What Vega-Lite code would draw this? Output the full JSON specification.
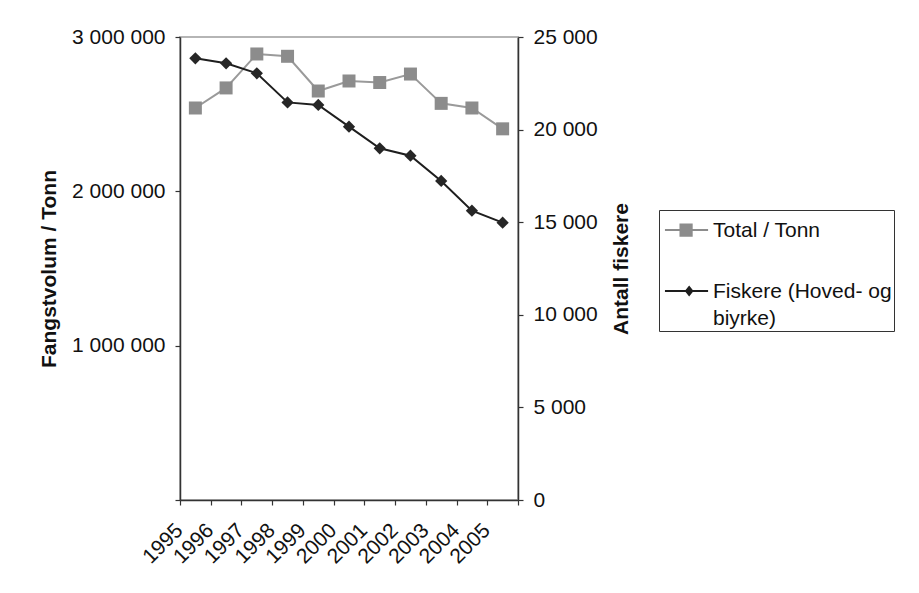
{
  "$schema": "https://vega.github.io/schema/vega-lite/v6.json",
  "width": 338,
  "height": 463,
  "autosize": {"type": "none"},
  "padding": {"left": 180, "top": 37, "right": 401, "bottom": 93},
  "background": "white",
  "config": {
    "font": "Liberation Sans",
    "view": {"stroke": "#b5b5b5", "strokeWidth": 2},
    "axis": {"labelFont": "Liberation Sans", "titleFont": "Liberation Sans", "labelFontSize": 21, "titleFontSize": 21, "labelColor": "#111", "titleColor": "#111", "domainColor": "#333", "tickColor": "#333", "domainWidth": 1.5, "tickWidth": 1.2, "grid": false},
    "legend": {"labelFont": "Liberation Sans", "labelFontSize": 21, "labelColor": "#111", "labelLimit": 0, "strokeColor": "#333", "padding": 2, "rowPadding": 32, "labelOffset": 8, "symbolSize": 1936, "symbolOpacity": 1, "symbolStrokeWidth": 0, "labelBaseline": "top"}
  },
  "data": {"values": [
    {"year": "1995", "series": "Total / Tonn", "value": 2540000},
    {"year": "1996", "series": "Total / Tonn", "value": 2670000},
    {"year": "1997", "series": "Total / Tonn", "value": 2890000},
    {"year": "1998", "series": "Total / Tonn", "value": 2875000},
    {"year": "1999", "series": "Total / Tonn", "value": 2650000},
    {"year": "2000", "series": "Total / Tonn", "value": 2715000},
    {"year": "2001", "series": "Total / Tonn", "value": 2705000},
    {"year": "2002", "series": "Total / Tonn", "value": 2760000},
    {"year": "2003", "series": "Total / Tonn", "value": 2570000},
    {"year": "2004", "series": "Total / Tonn", "value": 2540000},
    {"year": "2005", "series": "Total / Tonn", "value": 2405000},
    {"year": "1995", "series": "Fiskere (Hoved- og biyrke)", "value": 23850},
    {"year": "1996", "series": "Fiskere (Hoved- og biyrke)", "value": 23580},
    {"year": "1997", "series": "Fiskere (Hoved- og biyrke)", "value": 23040},
    {"year": "1998", "series": "Fiskere (Hoved- og biyrke)", "value": 21470},
    {"year": "1999", "series": "Fiskere (Hoved- og biyrke)", "value": 21330},
    {"year": "2000", "series": "Fiskere (Hoved- og biyrke)", "value": 20160},
    {"year": "2001", "series": "Fiskere (Hoved- og biyrke)", "value": 18990},
    {"year": "2002", "series": "Fiskere (Hoved- og biyrke)", "value": 18590},
    {"year": "2003", "series": "Fiskere (Hoved- og biyrke)", "value": 17225},
    {"year": "2004", "series": "Fiskere (Hoved- og biyrke)", "value": 15620},
    {"year": "2005", "series": "Fiskere (Hoved- og biyrke)", "value": 14975}
  ]},
  "encoding": {
    "x": {
      "field": "year", "type": "ordinal",
      "scale": {"type": "band", "paddingInner": 0, "paddingOuter": 0},
      "axis": {"title": null, "tickBand": "extent", "labelAngle": -45, "labelAlign": "right", "labelBaseline": "middle", "labelOffset": -16, "labelPadding": 22, "tickSize": 5}
    }
  },
  "layer": [
    {
      "encoding": {
        "y": {
          "field": "value", "type": "quantitative",
          "scale": {"domain": [0, 3000000], "nice": false, "zero": true},
          "axis": {"orient": "left", "values": [0, 1000000, 2000000, 3000000], "labelExpr": "datum.value == 0 ? '' : replace(format(datum.value, ','), regexp(',', 'g'), ' ')", "title": "Fangstvolum / Tonn", "titleFontWeight": "bold", "tickSize": 5, "labelPadding": 10, "titlePadding": 12}
        }
      },
      "layer": [
        {"transform": [{"filter": "datum.series == 'Total / Tonn'"}], "mark": {"type": "line", "color": "#9a9a9a", "strokeWidth": 2}},
        {"transform": [{"filter": "datum.series == 'Total / Tonn'"}], "mark": {"type": "point", "shape": "square", "filled": true, "color": "#8c8c8c", "size": 169, "opacity": 1}},
        {
          "mark": {"type": "point", "filled": true, "opacity": 0, "size": 1936},
          "encoding": {
            "color": {"field": "series", "type": "nominal", "scale": {"domain": ["Total / Tonn", "Fiskere (Hoved- og biyrke)"], "range": ["#8c8c8c", "#1e1e1e"]}, "legend": {"title": null, "orient": "none", "legendX": 479, "legendY": 173, "labelExpr": "datum.label == 'Fiskere (Hoved- og biyrke)' ? ['Fiskere (Hoved- og', 'biyrke)'] : datum.label", "encode": {"labels": {"update": {"dy": {"value": -14}, "lineHeight": {"value": 26.7}}}}}},
            "shape": {"field": "series", "type": "nominal", "scale": {"domain": ["Total / Tonn", "Fiskere (Hoved- og biyrke)"], "range": ["M-0.82,-0.225H1.14V-0.135H-0.82Z M-0.16,-0.48H0.44V0.12H-0.16Z", "M-0.82,-0.225H1.14V-0.135H-0.82Z M0.28,-0.43L0.48,-0.18L0.28,0.07L0.08,-0.18Z"]}, "legend": {"title": null, "orient": "none", "legendX": 479, "legendY": 173, "labelExpr": "datum.label == 'Fiskere (Hoved- og biyrke)' ? ['Fiskere (Hoved- og', 'biyrke)'] : datum.label", "encode": {"labels": {"update": {"dy": {"value": -14}, "lineHeight": {"value": 26.7}}}}}}
          }
        }
      ]
    },
    {
      "encoding": {
        "y": {
          "field": "value", "type": "quantitative",
          "scale": {"domain": [0, 25000], "nice": false, "zero": true},
          "axis": {"orient": "right", "values": [0, 5000, 10000, 15000, 20000, 25000], "labelExpr": "replace(format(datum.value, ','), regexp(',', 'g'), ' ')", "title": "Antall fiskere", "titleFontWeight": "bold", "titleAngle": -90, "titleBaseline": "top", "tickSize": 5, "labelPadding": 10, "titlePadding": 13}
        }
      },
      "layer": [
        {"transform": [{"filter": "datum.series != 'Total / Tonn'"}], "mark": {"type": "line", "color": "#1e1e1e", "strokeWidth": 2}},
        {"transform": [{"filter": "datum.series != 'Total / Tonn'"}], "mark": {"type": "point", "shape": "diamond", "filled": true, "color": "#262626", "size": 150, "opacity": 1}}
      ]
    }
  ],
  "resolve": {"scale": {"y": "independent"}}
}
